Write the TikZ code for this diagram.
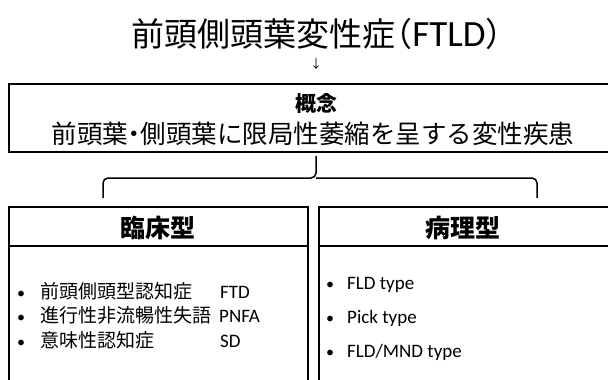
\documentclass[tikz,border=0pt]{standalone}
\usepackage{fontspec}
\setmainfont{Carlito}
\newfontfamily\jp{Noto Sans CJK JP}
\newfontfamily\jpb{Noto Sans CJK JP Black}
\newfontfamily\jph[RawFeature=+halt]{Noto Sans CJK JP}
\begin{document}
\begin{tikzpicture}[x=1pt,y=-1pt,
  box/.style={draw=black,line width=1.3pt},
  txt/.style={inner sep=0pt,anchor=center},
  item/.style={inner sep=0pt,anchor=base west,font=\fontsize{19}{21}\selectfont},
  dot/.style={inner sep=0pt,anchor=base west,font=\fontsize{16}{18}\selectfont}]
\useasboundingbox (0,0) rectangle (608,380);
% title
\node[txt] (title) at (317,34) {\fontsize{33}{36}\selectfont\jp 前頭側頭葉変性症{\jph （}{\rmfamily\fontsize{37}{38}\selectfont FTLD}{\jph ）}};
\node[txt] (arrow) at (316,64) {\fontsize{12}{12}\selectfont\jp ↓};
% top box
\draw[box] (9,84) rectangle (610,152);
\node[txt] (concept) at (316,104) {\fontsize{21}{22}\selectfont\jpb 概念};
\node[txt] (desc) at (313,134) {\fontsize{25.5}{28}\selectfont\jp 前頭葉{\jph ・}側頭葉に限局性萎縮を呈する変性疾患};
\coordinate (tip) at (316,156);
\coordinate (bl) at (103,198);
\coordinate (br) at (537,198);
\draw[line width=1.5pt,rounded corners=5pt] (bl) |- (316,178) -- (tip);
\draw[line width=1.5pt,rounded corners=5pt] (br) |- (316,178);
% left box
\draw[box] (9,207) rectangle (308,384);
\draw[box] (9,246) -- (308,246);
\node[txt] (clin) at (158,228) {\fontsize{25}{26}\selectfont\jpb 臨床型};
\node[dot] (b1) at (17,298) {•};
\node[item] (l1) at (40,298) {\jp 前頭側頭型認知症};
\node[item] (a1) at (220,298) {FTD};
\node[dot] (b2) at (17,322) {•};
\node[item] (l2) at (40,322) {\jp 進行性非流暢性失語};
\node[item] (a2) at (219,322) {PNFA};
\node[dot] (b3) at (17,347) {•};
\node[item] (l3) at (40,347) {\jp 意味性認知症};
\node[item] (a3) at (220,347) {SD};
% right box
\draw[box] (319,207) rectangle (612,384);
\draw[box] (319,246) -- (612,246);
\node[txt] (path) at (463,228) {\fontsize{25}{26}\selectfont\jpb 病理型};
\node[dot] (c1) at (326,289) {•};
\node[item] (r1) at (347,289) {FLD type};
\node[dot] (c2) at (326,323) {•};
\node[item] (r2) at (347,323) {Pick type};
\node[dot] (c3) at (326,357) {•};
\node[item] (r3) at (347,357) {FLD/MND type};
\end{tikzpicture}
\end{document}
